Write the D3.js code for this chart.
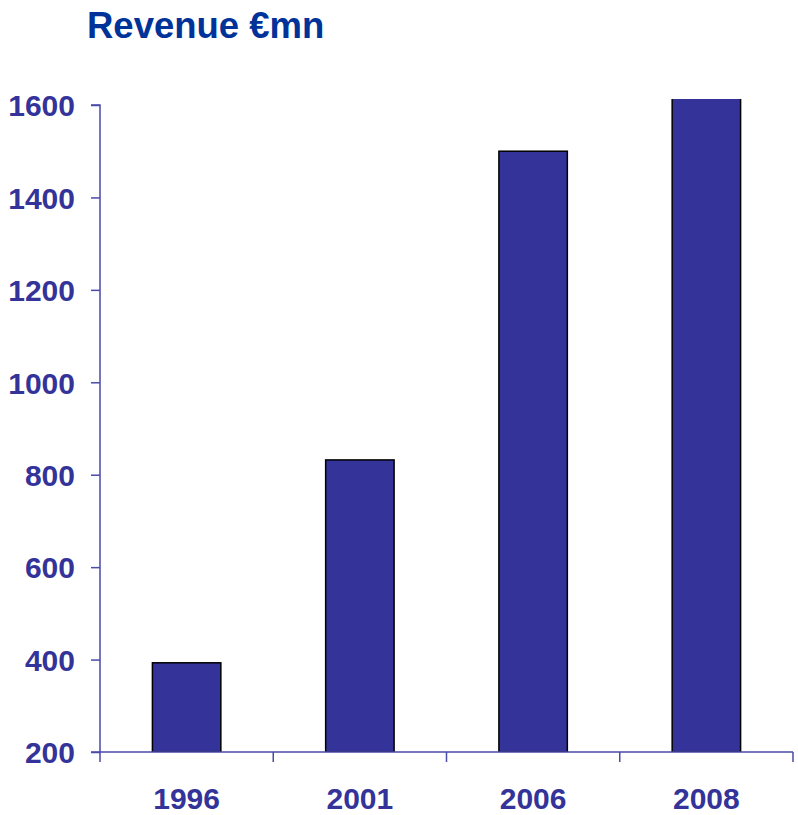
<!DOCTYPE html>
<html>
<head>
<meta charset="utf-8">
<script src="https://cdn.jsdelivr.net/npm/d3@7"></script>
<style>
  html, body { margin: 0; padding: 0; background: #fff; }
  svg { display: block; }
</style>
</head>
<body>
<svg id="chart" width="798" height="815"></svg>
<script>
// Revenue by year, € millions
const years = ["1996", "2001", "2006", "2008"];
const revenue = [393, 832, 1500, 1625];
const yTicks = [200, 400, 600, 800, 1000, 1200, 1400, 1600];

const svg = d3.select("#chart");
const plotLeft = 100, plotRight = 793, plotTop = 105, plotBottom = 752;
const axisColor = "#4a4aa8";
const labelColor = "#333399";
const font = "Liberation Sans, Arial, sans-serif";

const x = d3.scaleBand().domain(years).range([plotLeft, plotRight]).paddingInner(0).paddingOuter(0);
const y = d3.scaleLinear().domain([200, 1600]).range([plotBottom, plotTop]);
const barW = x.bandwidth() * 0.395;

// Title
svg.append("text")
  .attr("x", 87).attr("y", 38)
  .attr("font-family", font).attr("font-weight", "bold").attr("font-size", 36.5)
  .attr("fill", "#003399")
  .text("Revenue €mn");

// Plot-area clip: values above the axis maximum get cut off at the top
svg.append("defs").append("clipPath").attr("id", "plot")
  .append("rect").attr("x", plotLeft).attr("y", 99).attr("width", plotRight - plotLeft).attr("height", plotBottom - 99);

svg.append("g").attr("clip-path", "url(#plot)")
  .selectAll("rect").data(years).join("rect")
  .attr("x", d => x(d) + (x.bandwidth() - barW) / 2)
  .attr("y", (d, i) => y(revenue[i]))
  .attr("width", barW)
  .attr("height", (d, i) => plotBottom - y(revenue[i]))
  .attr("fill", "#333399")
  .attr("stroke", "#000")
  .attr("stroke-width", 1.5);

// Y axis
const yAxis = svg.append("g").attr("transform", `translate(${plotLeft},0)`)
  .call(d3.axisLeft(y).tickValues(yTicks).tickSize(9).tickPadding(16).tickFormat(d3.format("d")));
yAxis.select(".domain").attr("stroke", axisColor).attr("stroke-width", 1.5).attr("d", `M-9,${plotTop}H0V${plotBottom}`);
yAxis.selectAll(".tick line").attr("stroke", axisColor).attr("stroke-width", 1.5);
yAxis.selectAll(".tick text")
  .attr("font-family", font).attr("font-weight", "bold").attr("font-size", 30)
  .attr("fill", labelColor).attr("dy", "0.36em");

// X axis
const xAxis = svg.append("g").attr("transform", `translate(0,${plotBottom})`);
xAxis.append("line").attr("x1", plotLeft - 9).attr("x2", plotRight).attr("y1", 0).attr("y2", 0)
  .attr("stroke", axisColor).attr("stroke-width", 1.5);
const edges = years.map(d => x(d)).concat([plotRight]);
xAxis.selectAll(".xt").data(edges).join("line")
  .attr("x1", d => d).attr("x2", d => d).attr("y1", 0).attr("y2", 10)
  .attr("stroke", axisColor).attr("stroke-width", 1.5);
xAxis.selectAll(".xl").data(years).join("text")
  .attr("x", d => x(d) + x.bandwidth() / 2).attr("y", 57)
  .attr("text-anchor", "middle")
  .attr("font-family", font).attr("font-weight", "bold").attr("font-size", 30)
  .attr("fill", labelColor)
  .text(d => d);
</script>
</body>
</html>
